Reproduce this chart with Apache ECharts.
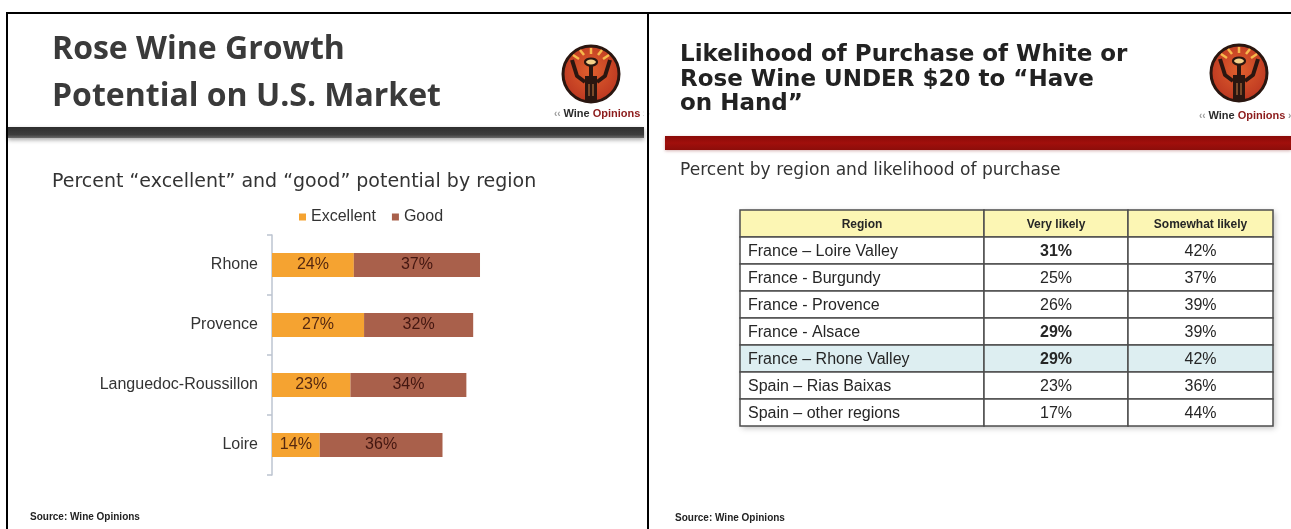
<!DOCTYPE html>
<html>
<head>
<meta charset="utf-8">
<script src="https://cdn.jsdelivr.net/npm/echarts@6/dist/echarts.min.js"></script>
<style>
html,body{margin:0;padding:0;background:#fff;}
#chart{width:1291px;height:529px;}
</style>
</head>
<body>
<div id="chart"></div>
<script>
// ---- Data ----
const barCategories = ['Rhone', 'Provence', 'Languedoc-Roussillon', 'Loire'];
const excellentValues = [24, 27, 23, 14];
const goodValues = [37, 32, 34, 36];
const seriesNames = ['Excellent', 'Good'];

const tableHeader = ['Region', 'Very likely', 'Somewhat likely'];
const tableRegions = ['France – Loire Valley', 'France - Burgundy', 'France - Provence', 'France - Alsace',
  'France – Rhone Valley', 'Spain – Rias Baixas', 'Spain – other regions'];
const veryLikely = [31, 25, 26, 29, 29, 23, 17];
const somewhatLikely = [42, 37, 39, 39, 42, 36, 44];

// ---- Styles / layout constants ----
const BOLD_VERY_LIKELY_ROWS = [0, 3, 4];
const HIGHLIGHT_ROW = 4;
const COL_EDGES = [0, 244, 388, 533];
const SANS = '"Liberation Sans", Arial, sans-serif';
const VERDANA = '"DejaVu Sans", Verdana, sans-serif';

const tableRows = [tableHeader[0]].concat(tableRegions);
const cellData = [];
for (let r = 0; r < tableRows.length; r++) {
  for (let c = 0; c < 3; c++) cellData.push([c, r]);
}
function cellText(c, r) {
  if (r === 0) return tableHeader[c];
  const i = r - 1;
  if (c === 0) return tableRegions[i];
  if (c === 1) return veryLikely[i] + '%';
  return somewhatLikely[i] + '%';
}

function renderCell(params, api) {
  const c = api.value(0), r = api.value(1);
  const yc = api.coord([0, r])[1];
  const h = api.size([0, 1])[1];
  const x0 = api.coord([COL_EDGES[c], r])[0];
  const x1 = api.coord([COL_EDGES[c + 1], r])[0];
  const y0 = yc - h / 2;
  let fill = '#ffffff';
  if (r === 0) fill = '#fcf6b4';
  else if (r - 1 === HIGHLIGHT_ROW) fill = '#ddeef1';
  const isHeader = r === 0;
  const bold = isHeader || (c === 1 && BOLD_VERY_LIKELY_ROWS.indexOf(r - 1) >= 0);
  return {
    type: 'group',
    children: [
      { type: 'rect', shape: { x: x0, y: y0, width: x1 - x0, height: h },
        style: { fill: fill, stroke: '#4d4d4d', lineWidth: 1.5 } },
      { type: 'text',
        style: {
          x: c === 0 && !isHeader ? x0 + 8 : (x0 + x1) / 2,
          y: yc + 1,
          text: cellText(c, r),
          align: c === 0 && !isHeader ? 'left' : 'center',
          verticalAlign: 'middle',
          fontFamily: SANS,
          fontSize: isHeader ? 12 : 16,
          fontWeight: bold ? 'bold' : 'normal',
          fill: '#262626'
        } }
    ]
  };
}

// ---- Decorations (logo) ----
function logo(cx, cy, textX, textY, mask) {
  const dark = '#2a1610';
  const ray = '#f7b94c';
  const els = [
    { type: 'circle', shape: { cx: cx, cy: cy, r: 28 },
      style: { fill: { type: 'radial', x: 0.5, y: 0.45, r: 0.6,
        colorStops: [{ offset: 0, color: '#e0602e' }, { offset: 1, color: '#b8321f' }] },
        stroke: dark, lineWidth: 3 } },
    { type: 'line', shape: { x1: cx, y1: cy - 20, x2: cx, y2: cy - 26 }, style: { stroke: ray, lineWidth: 2.5 } },
    { type: 'line', shape: { x1: cx - 7, y1: cy - 19, x2: cx - 11, y2: cy - 24 }, style: { stroke: ray, lineWidth: 2.5 } },
    { type: 'line', shape: { x1: cx + 7, y1: cy - 19, x2: cx + 11, y2: cy - 24 }, style: { stroke: ray, lineWidth: 2.5 } },
    { type: 'line', shape: { x1: cx - 12, y1: cy - 15, x2: cx - 18, y2: cy - 19 }, style: { stroke: ray, lineWidth: 2.5 } },
    { type: 'line', shape: { x1: cx + 12, y1: cy - 15, x2: cx + 18, y2: cy - 19 }, style: { stroke: ray, lineWidth: 2.5 } },
    { type: 'ellipse', shape: { cx: cx, cy: cy - 12, rx: 6, ry: 3.5 }, style: { fill: '#f4d08a', stroke: dark, lineWidth: 2.2 } },
    { type: 'polyline', shape: { points: [[cx - 19, cy - 14], [cx - 14, cy + 2], [cx - 6, cy + 8]] },
      style: { stroke: dark, lineWidth: 4, fill: null, lineJoin: 'round' } },
    { type: 'polyline', shape: { points: [[cx + 19, cy - 14], [cx + 14, cy + 2], [cx + 6, cy + 8]] },
      style: { stroke: dark, lineWidth: 4, fill: null, lineJoin: 'round' } },
    { type: 'rect', shape: { x: cx - 2, y: cy - 8, width: 4, height: 10 }, style: { fill: dark } },
    { type: 'rect', shape: { x: cx - 6, y: cy + 2, width: 12, height: 25 }, style: { fill: dark } },
    { type: 'rect', shape: { x: cx - 3, y: cy + 10, width: 2, height: 12 }, style: { fill: '#7a4a2a' } },
    { type: 'rect', shape: { x: cx + 1, y: cy + 10, width: 2, height: 12 }, style: { fill: '#7a4a2a' } },
    { type: 'text', style: { x: textX, y: textY, verticalAlign: 'middle',
      text: '{q|‹‹ }{w|Wine }{o|Opinions}{q| ››}',
      rich: {
        q: { fontFamily: SANS, fontSize: 10, fontWeight: 'bold', fill: '#9a9a9a' },
        w: { fontFamily: SANS, fontSize: 11, fontWeight: 'bold', fill: '#2b2b2b' },
        o: { fontFamily: SANS, fontSize: 11, fontWeight: 'bold', fill: '#8c1b1b' }
      } } }
  ];
  if (mask) els.push({ type: 'rect', shape: { x: mask, y: textY - 9, width: 3, height: 18 }, style: { fill: '#fff' } });
  return els;
}

const graphics = [
  { type: 'polyline', shape: { points: [[7, 529], [7, 13], [1291, 13]] }, style: { stroke: '#000', lineWidth: 2, fill: null }, z: 10 },
  { type: 'line', shape: { x1: 648, y1: 13, x2: 648, y2: 529 }, style: { stroke: '#000', lineWidth: 2 }, z: 10 },

  { type: 'text', style: { x: 52, y: 50, verticalAlign: 'middle', text: 'Rose Wine Growth',
    fontFamily: '"Open Sans", sans-serif', fontWeight: 'bold', fontSize: 32, fill: '#3a3a3a' } },
  { type: 'text', style: { x: 52, y: 97, verticalAlign: 'middle', text: 'Potential on U.S. Market',
    fontFamily: '"Open Sans", sans-serif', fontWeight: 'bold', fontSize: 32, fill: '#3a3a3a' } },
  { type: 'rect', shape: { x: 8, y: 127, width: 636, height: 11 },
    style: { fill: { type: 'linear', x: 0, y: 0, x2: 0, y2: 1,
      colorStops: [{ offset: 0, color: '#2e2e2e' }, { offset: 0.7, color: '#3d3d3d' }, { offset: 1, color: '#6a6a6a' }] },
      shadowBlur: 4, shadowOffsetY: 2, shadowColor: 'rgba(0,0,0,0.35)' } },
  { type: 'text', style: { x: 52, y: 182, verticalAlign: 'middle',
    text: 'Percent \u201Cexcellent\u201D and \u201Cgood\u201D potential by region',
    fontFamily: VERDANA, fontSize: 19, fill: '#333' } },
  { type: 'text', style: { x: 30, y: 517, verticalAlign: 'middle', text: 'Source: Wine Opinions',
    fontFamily: SANS, fontWeight: 'bold', fontSize: 10, fill: '#222' } },

  { type: 'text', style: { x: 680, y: 55, verticalAlign: 'middle', text: 'Likelihood of Purchase of White or',
    fontFamily: VERDANA, fontWeight: 'bold', fontSize: 23, fill: '#222' } },
  { type: 'text', style: { x: 680, y: 80, verticalAlign: 'middle', text: 'Rose Wine UNDER $20 to \u201CHave',
    fontFamily: VERDANA, fontWeight: 'bold', fontSize: 23, fill: '#222' } },
  { type: 'text', style: { x: 680, y: 104, verticalAlign: 'middle', text: 'on Hand\u201D',
    fontFamily: VERDANA, fontWeight: 'bold', fontSize: 23, fill: '#222' } },
  { type: 'rect', shape: { x: 665, y: 136, width: 626, height: 14 },
    style: { fill: { type: 'linear', x: 0, y: 0, x2: 0, y2: 1,
      colorStops: [{ offset: 0, color: '#8a0a08' }, { offset: 0.5, color: '#a10f0c' }, { offset: 1, color: '#8c0d0a' }] },
      shadowBlur: 3, shadowOffsetY: 1, shadowColor: 'rgba(120,0,0,0.3)' } },
  { type: 'text', style: { x: 680, y: 171, verticalAlign: 'middle', text: 'Percent by region and likelihood of purchase',
    fontFamily: VERDANA, fontSize: 17.1, fill: '#333' } },
  { type: 'text', style: { x: 675, y: 518, verticalAlign: 'middle', text: 'Source: Wine Opinions',
    fontFamily: SANS, fontWeight: 'bold', fontSize: 10, fill: '#222' } },
  { type: 'rect', shape: { x: 740, y: 210, width: 533, height: 216 },
    style: { fill: '#fff', shadowBlur: 6, shadowOffsetX: 2, shadowOffsetY: 2, shadowColor: 'rgba(0,0,0,0.25)' }, z: -1 }
].concat(logo(591, 74, 554, 114, 644)).concat(logo(1239, 73, 1199, 116, null));

const chart = echarts.init(document.getElementById('chart'), null, { renderer: 'canvas' });
chart.setOption({
  animation: false,
  backgroundColor: '#ffffff',
  legend: {
    data: seriesNames,
    left: 294, top: 204,
    icon: 'rect', itemWidth: 7, itemHeight: 7, itemGap: 16,
    textStyle: { fontFamily: SANS, fontSize: 16, color: '#333' }
  },
  grid: [
    { left: 272, top: 235, width: 341, height: 240 },
    { left: 740, top: 210, width: 533, height: 216 }
  ],
  xAxis: [
    { gridIndex: 0, type: 'value', min: 0, max: 100, show: false },
    { gridIndex: 1, type: 'value', min: 0, max: COL_EDGES[3], show: false }
  ],
  yAxis: [
    { gridIndex: 0, type: 'category', data: barCategories, inverse: true,
      axisLine: { lineStyle: { color: '#bcc4d0', width: 1.5 } },
      axisTick: { show: true, length: 5, lineStyle: { color: '#bcc4d0', width: 1.5 } },
      axisLabel: { fontFamily: SANS, fontSize: 16, color: '#333', margin: 14 },
      splitLine: { show: false } },
    { gridIndex: 1, type: 'category', data: tableRows, inverse: true, show: false }
  ],
  graphic: graphics,
  series: [
    { name: seriesNames[0], type: 'bar', stack: 'total', xAxisIndex: 0, yAxisIndex: 0,
      data: excellentValues, barWidth: 24, itemStyle: { color: '#f5a331' },
      label: { show: true, position: 'inside', formatter: '{c}%', fontFamily: SANS, fontSize: 16, color: '#552810' } },
    { name: seriesNames[1], type: 'bar', stack: 'total', xAxisIndex: 0, yAxisIndex: 0,
      data: goodValues, barWidth: 24, itemStyle: { color: '#a9604b' },
      label: { show: true, position: 'inside', formatter: '{c}%', fontFamily: SANS, fontSize: 16, color: '#431610' } },
    { name: 'table', type: 'custom', xAxisIndex: 1, yAxisIndex: 1, data: cellData,
      renderItem: renderCell, clip: false, silent: true }
  ]
});
</script>
</body>
</html>
